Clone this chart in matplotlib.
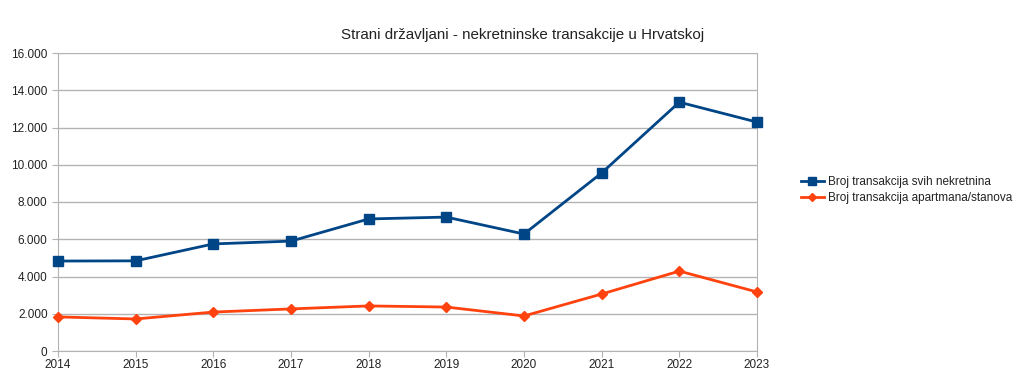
import matplotlib
matplotlib.use("Agg")
import matplotlib.pyplot as plt
from matplotlib.ticker import FuncFormatter

plt.rcParams['font.family'] = ['Liberation Sans', 'DejaVu Sans']

# data
years = [2014, 2015, 2016, 2017, 2018, 2019, 2020, 2021, 2022, 2023]
svih_nekretnina = [4830, 4840, 5750, 5900, 7090, 7190, 6280, 9560, 13360, 12290]
apartmana_stanova = [1830, 1720, 2090, 2260, 2420, 2360, 1880, 3060, 4290, 3170]

label_svih = "Broj transakcija svih nekretnina"
label_apt = "Broj transakcija apartmana/stanova"
title = "Strani državljani - nekretninske transakcije u Hrvatskoj"

fig = plt.figure(figsize=(10.24, 3.81), dpi=100)
ax = fig.add_axes([58 / 1024, 1 - 351 / 381, (757 - 58) / 1024, (351 - 53) / 381])

ax.plot(years, svih_nekretnina, color='#004586', lw=2, marker='s', ms=7,
        label=label_svih, clip_on=False, zorder=3)
ax.plot(years, apartmana_stanova, color='#ff420e', lw=2, marker='D', ms=5,
        label=label_apt, clip_on=False, zorder=3)

ax.set_xlim(2014, 2023)
ax.set_ylim(0, 16000)
ax.set_xticks(years)
ax.set_yticks(range(0, 16001, 2000))
ax.yaxis.set_major_formatter(FuncFormatter(lambda v, p: f"{int(v):,}".replace(",", ".")))

ax.grid(axis='y', color='#b3b3b3', lw=1)
ax.set_axisbelow(True)
ax.spines['top'].set_visible(False)
for s in ['left', 'right', 'bottom']:
    ax.spines[s].set_color('#b3b3b3')
ax.tick_params(axis='both', colors='#b3b3b3', labelcolor='#222222', labelsize=8.5, length=4)
ax.tick_params(axis='x', pad=2)

fig.text(0.51, 1 - 35 / 381, title, ha='center', va='center', fontsize=10.9, color='#222222')

leg = fig.legend(loc='center left', bbox_to_anchor=(790 / 1024, 1 - 190 / 381), frameon=False,
                 fontsize=8.5, handlelength=2.0, labelspacing=0.35, handletextpad=0.3,
                 markerscale=0.8)
for t in leg.get_texts():
    t.set_color('#222222')

fig.savefig("out.png", dpi=100)
